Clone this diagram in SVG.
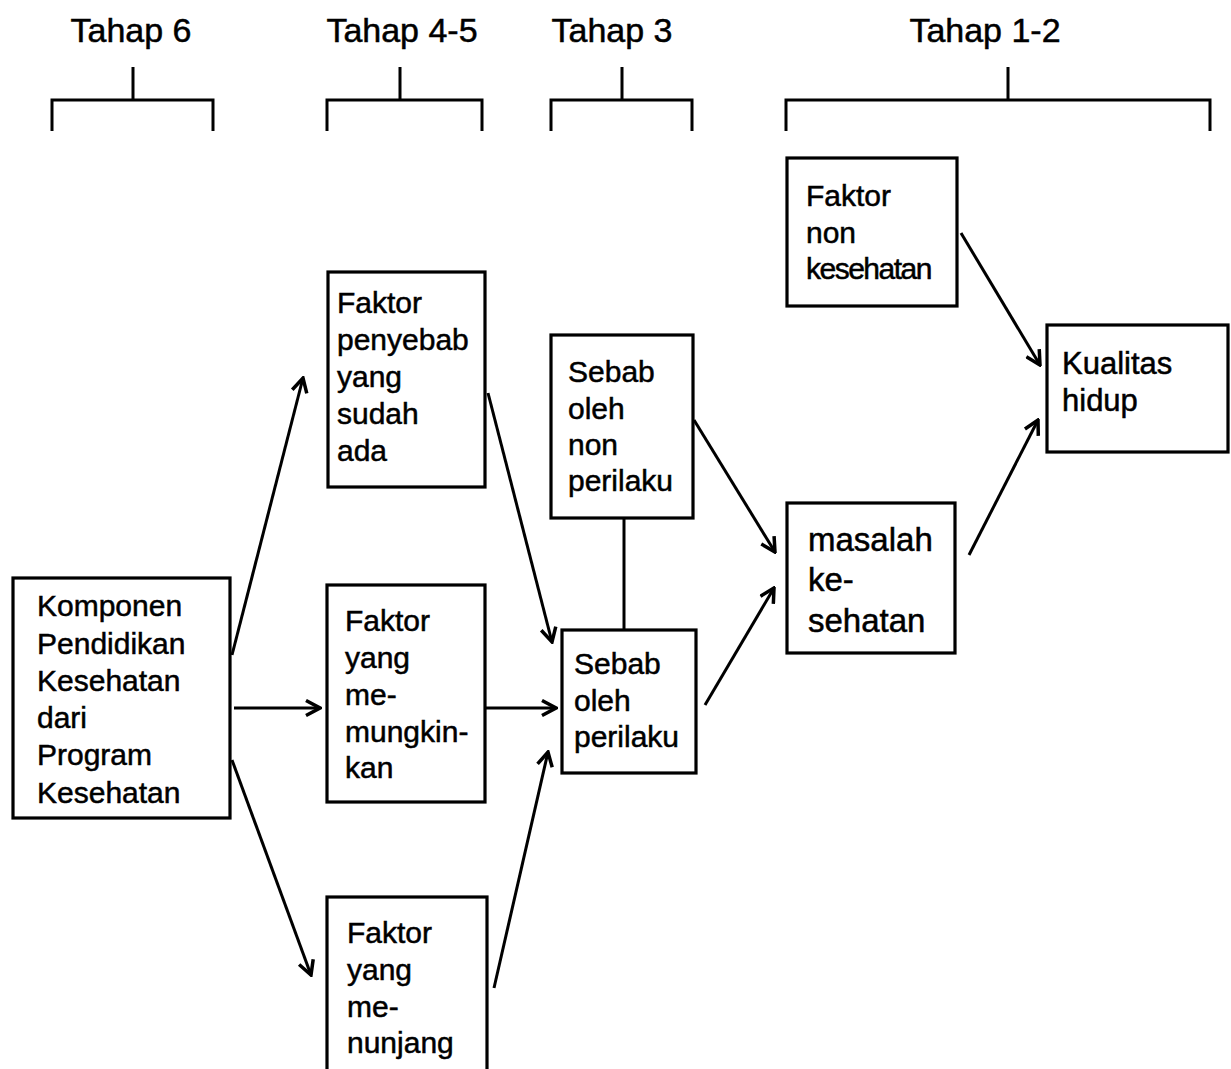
<svg xmlns="http://www.w3.org/2000/svg" width="1231" height="1069" viewBox="0 0 1231 1069">
  <style>
    .box { fill: #fff; stroke: #000; stroke-width: 3.2; }
    .ln { fill: none; stroke: #000; stroke-width: 3; }
    .arr { fill: none; stroke: #000; stroke-width: 3; marker-end: url(#ah); }
    .t { font-family: "Liberation Sans", Arial, Helvetica, sans-serif; font-size: 30px; fill: #000; stroke: #000; stroke-width: 0.5; }
    .hd { font-family: "Liberation Sans", Arial, Helvetica, sans-serif; font-size: 34px; fill: #000; stroke: #000; stroke-width: 0.5; text-anchor: middle; }
  </style>
  <defs>
    <marker id="ah" viewBox="0 0 18 18" refX="16" refY="9" markerWidth="18" markerHeight="18" markerUnits="userSpaceOnUse" orient="auto">
      <path d="M2,1.5 L16,9 L2,16.5" fill="none" stroke="#000" stroke-width="3.5"/>
    </marker>
  </defs>
  <rect width="1231" height="1069" fill="#fff"/>

  <!-- stage headers with brackets -->
  <g id="stages">
    <text class="hd" x="131" y="42">Tahap 6</text>
    <path class="ln" d="M52,131 V100 H213 V131 M133,67 V100"/>
    <text class="hd" x="402" y="42">Tahap 4-5</text>
    <path class="ln" d="M327,131 V100 H482 V131 M400,67 V100"/>
    <text class="hd" x="612" y="42">Tahap 3</text>
    <path class="ln" d="M551,131 V100 H692 V131 M622,67 V100"/>
    <text class="hd" x="985" y="42">Tahap 1-2</text>
    <path class="ln" d="M786,131 V100 H1210 V131 M1008,67 V100"/>
  </g>

  <!-- connectors -->
  <g id="connectors">
    <line class="arr" x1="232" y1="655" x2="303" y2="378"/>
    <line class="arr" x1="234" y1="708" x2="320" y2="708"/>
    <line class="arr" x1="232" y1="760" x2="311" y2="975"/>
    <line class="arr" x1="488" y1="393" x2="552" y2="642"/>
    <line class="arr" x1="486" y1="708" x2="556" y2="708"/>
    <line class="arr" x1="494" y1="988" x2="548" y2="752"/>
    <line class="ln" x1="624" y1="518" x2="624" y2="630"/>
    <line class="arr" x1="694" y1="420" x2="775" y2="552"/>
    <line class="arr" x1="705" y1="705" x2="774" y2="588"/>
    <line class="arr" x1="961" y1="233" x2="1040" y2="365"/>
    <line class="arr" x1="969" y1="555" x2="1038" y2="420"/>
  </g>

  <g id="komponen">
    <rect class="box" x="13" y="578" width="217" height="240"/>
    <text class="t" x="37" y="616">Komponen</text>
    <text class="t" x="37" y="654">Pendidikan</text>
    <text class="t" x="37" y="691">Kesehatan</text>
    <text class="t" x="37" y="728">dari</text>
    <text class="t" x="37" y="765">Program</text>
    <text class="t" x="37" y="803">Kesehatan</text>
  </g>

  <g id="faktor-penyebab">
    <rect class="box" x="328" y="272" width="157" height="215"/>
    <text class="t" x="337" y="313">Faktor</text>
    <text class="t" x="337" y="350">penyebab</text>
    <text class="t" x="337" y="387">yang</text>
    <text class="t" x="337" y="424">sudah</text>
    <text class="t" x="337" y="461">ada</text>
  </g>

  <g id="faktor-memungkinkan">
    <rect class="box" x="327" y="585" width="158" height="217"/>
    <text class="t" x="345" y="631">Faktor</text>
    <text class="t" x="345" y="668">yang</text>
    <text class="t" x="345" y="705">me-</text>
    <text class="t" x="345" y="742">mungkin-</text>
    <text class="t" x="345" y="778">kan</text>
  </g>

  <g id="faktor-menunjang">
    <rect class="box" x="327" y="897" width="160" height="180"/>
    <text class="t" x="347" y="943">Faktor</text>
    <text class="t" x="347" y="980">yang</text>
    <text class="t" x="347" y="1017">me-</text>
    <text class="t" x="347" y="1053">nunjang</text>
  </g>

  <g id="sebab-non-perilaku">
    <rect class="box" x="551" y="335" width="142" height="183"/>
    <text class="t" x="568" y="382">Sebab</text>
    <text class="t" x="568" y="419">oleh</text>
    <text class="t" x="568" y="455">non</text>
    <text class="t" x="568" y="491">perilaku</text>
  </g>

  <g id="sebab-perilaku">
    <rect class="box" x="562" y="630" width="134" height="143"/>
    <text class="t" x="574" y="674">Sebab</text>
    <text class="t" x="574" y="711">oleh</text>
    <text class="t" x="574" y="747">perilaku</text>
  </g>

  <g id="faktor-non-kesehatan">
    <rect class="box" x="787" y="158" width="170" height="148"/>
    <text class="t" x="806" y="206">Faktor</text>
    <text class="t" x="806" y="243">non</text>
    <text class="t" x="806" y="279" letter-spacing="-1.5">kesehatan</text>
  </g>

  <g id="masalah-kesehatan">
    <rect class="box" x="787" y="503" width="168" height="150"/>
    <text class="t" x="808" y="551" style="font-size:33px">masalah</text>
    <text class="t" x="808" y="591" style="font-size:33px">ke-</text>
    <text class="t" x="808" y="632" style="font-size:33px">sehatan</text>
  </g>

  <g id="kualitas-hidup">
    <rect class="box" x="1047" y="325" width="181" height="127"/>
    <text class="t" x="1062" y="374" style="font-size:31px">Kualitas</text>
    <text class="t" x="1062" y="411" style="font-size:31px">hidup</text>
  </g>
</svg>
